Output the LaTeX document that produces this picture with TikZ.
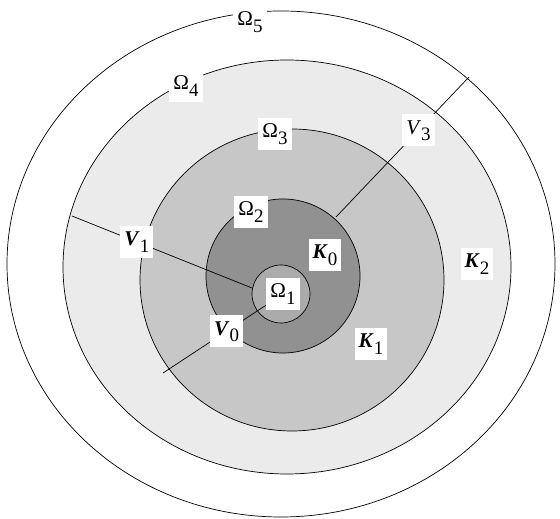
\documentclass[tikz,border=0pt]{standalone}
\usepackage{fontspec}
\setmainfont{Liberation Serif}
\usepackage{tikz}
\usetikzlibrary{positioning}

\newcommand{\idx}[1]{\raisebox{-0.3em}{\fontsize{19}{22}\selectfont #1}}
\newcommand{\vk}[1]{\textbf{\textit{#1}}}

\begin{document}
\begin{tikzpicture}[x=1pt,y=1pt,
zone/.style={draw=black,line width=0.7pt},
ray/.style={draw=black,line width=0.7pt},
tag/.style={fill=white,inner xsep=4pt,inner ysep=6pt,text height=14pt,text depth=6pt,font=\fontsize{21}{24}\selectfont}
]
\useasboundingbox (0,0) rectangle (560,519);

% nested regions, outermost first
\coordinate (c5) at (281,255);
\coordinate (c4) at (287,252);
\coordinate (c3) at (292,239);
\coordinate (c2) at (283,243);
\coordinate (c1) at (281,225);
\path[zone,fill=white] (c5) ellipse [x radius=274,y radius=253];
\path[zone,fill=black!8] (c4) ellipse [x radius=224,y radius=207];
\path[zone,fill=black!22] (c3) ellipse [x radius=152,y radius=151];
\path[zone,fill=black!43] (c2) circle [radius=77];
\path[zone,fill=black!33] (c1) circle [radius=29];

% end points of the cuts
\coordinate (v3in) at (336,302);
\coordinate (v3out) at (469,442);
\coordinate (v1out) at (72,303);
\coordinate (v1in) at (252,231);
\coordinate (v0in) at (283,225);
\coordinate (v0out) at (163,146);

\draw[ray] (v3in) -- node[tag,pos=0.62] (V3) {\textit{V}\idx{3}} (v3out);
\draw[ray] (v1out) -- node[tag,pos=0.36] (V1) {\vk{V}\idx{1}} (v1in);
\draw[ray] (v0in) -- node[tag,pos=0.47] (V0) {\vk{V}\idx{0}} (v0out);

% region labels
\node[tag] (O5) at (250,497) {Ω\idx{5}};
\node[tag] (O4) at (186,433) {Ω\idx{4}};
\node[tag] (O3) at (275,385) {Ω\idx{3}};
\node[tag] (O2) at (251,307) {Ω\idx{2}};
\node[tag] (O1) at (283,225) {Ω\idx{1}};
\node[tag] (K0) at (325,264) {\vk{K}\idx{0}};
\node[tag] (K1) at (371,175) {\vk{K}\idx{1}};
\node[tag] (K2) at (477,255) {\vk{K}\idx{2}};
\end{tikzpicture}
\end{document}
